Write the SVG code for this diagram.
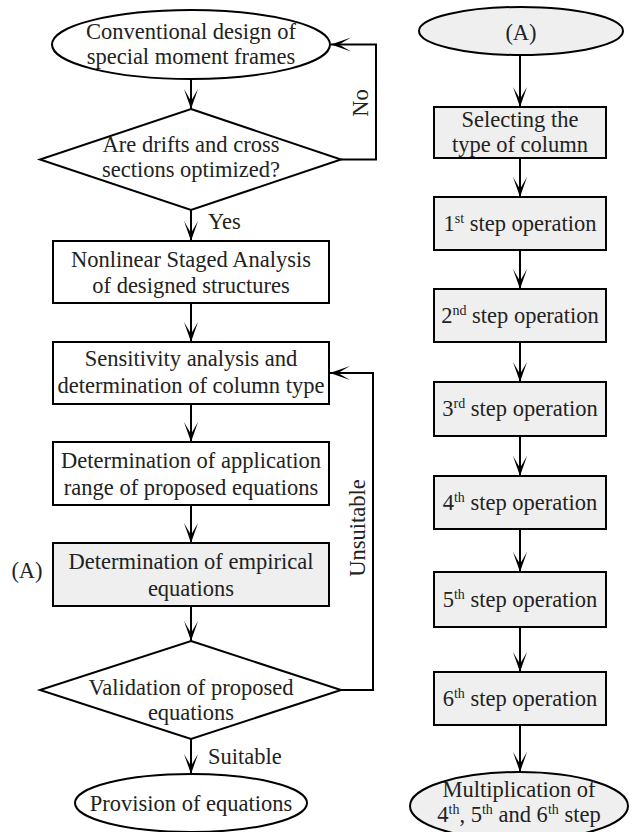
<svg xmlns="http://www.w3.org/2000/svg" width="632" height="832" viewBox="0 0 632 832" font-family="'Liberation Serif', 'Times New Roman', serif" font-size="22.5">
<style>
.s{stroke:#000;stroke-width:2;fill:#fff}
.g{stroke:#000;stroke-width:2;fill:#efefef}
text{font-family:'Liberation Serif','Times New Roman',serif;font-size:22.5px;fill:#222;text-anchor:middle}
.l{text-anchor:start}
.sup{font-size:14px}
.c{stroke:#000;stroke-width:2;fill:none;marker-end:url(#ah)}
</style>
<defs>
<marker id="ah" markerUnits="userSpaceOnUse" markerWidth="24" markerHeight="16" viewBox="-20 -8 22 16" refX="0" refY="0" orient="auto">
<path d="M0,0 L-20,-7 L-8,0 L-20,7 Z" fill="#000"/>
</marker>
</defs>
<g id="connectors">
<line class="c" x1="191" y1="79" x2="191" y2="109"/>
<line class="c" x1="191" y1="210" x2="191" y2="241"/>
<line class="c" x1="191" y1="303" x2="191" y2="342"/>
<line class="c" x1="191" y1="404" x2="191" y2="442"/>
<line class="c" x1="191" y1="505" x2="191" y2="543"/>
<line class="c" x1="191" y1="606" x2="191" y2="641"/>
<line class="c" x1="191" y1="739" x2="191" y2="774"/>
<polyline class="c" points="341,159.5 376,159.5 376,44.5 331,44.5"/>
<polyline class="c" points="341,690 373,690 373,373 330,373"/>
<line class="c" x1="520" y1="55" x2="520" y2="107"/>
<line class="c" x1="520" y1="158" x2="520" y2="197"/>
<line class="c" x1="520" y1="250" x2="520" y2="289"/>
<line class="c" x1="520" y1="342" x2="520" y2="382"/>
<line class="c" x1="520" y1="436" x2="520" y2="476"/>
<line class="c" x1="520" y1="529" x2="520" y2="572"/>
<line class="c" x1="520" y1="627" x2="520" y2="672"/>
<line class="c" x1="520" y1="725" x2="520" y2="772"/>
<text transform="translate(368,103) rotate(-90)">No</text>
<text class="l" x="208" y="229">Yes</text>
<text transform="translate(365,528) rotate(-90)">Unsuitable</text>
<text class="l" x="208" y="764">Suitable</text>
</g>
<g id="n1">
<ellipse class="s" cx="191" cy="44.5" rx="139" ry="34.5"/>
<text x="191" y="39">Conventional design of</text>
<text x="191" y="64">special moment frames</text>
</g>
<g id="n2">
<polygon class="s" points="191,109 341,159.5 191,210 40,159.5"/>
<text x="191" y="152">Are drifts and cross</text>
<text x="191" y="177">sections optimized?</text>
</g>
<g id="n3">
<rect class="s" x="53" y="241" width="276" height="62"/>
<text x="191" y="267">Nonlinear Staged Analysis</text>
<text x="191" y="293">of designed structures</text>
</g>
<g id="n4">
<rect class="s" x="53" y="342" width="276" height="62"/>
<text x="191" y="366">Sensitivity analysis and</text>
<text x="191" y="393">determination of column type</text>
</g>
<g id="n5">
<rect class="s" x="53" y="442" width="276" height="63"/>
<text x="191" y="468">Determination of application</text>
<text x="191" y="495">range of proposed equations</text>
</g>
<g id="n6">
<rect class="g" x="53" y="543" width="276" height="63"/>
<text x="191" y="569">Determination of empirical</text>
<text x="191" y="596">equations</text>
<text x="27" y="578">(A)</text>
</g>
<g id="n7">
<polygon class="s" points="191,641 341,690 191,739 40,690"/>
<text x="191" y="695">Validation of proposed</text>
<text x="191" y="720">equations</text>
</g>
<g id="n8">
<ellipse class="s" cx="191" cy="803" rx="116" ry="29"/>
<text x="191" y="811">Provision of equations</text>
</g>
<g id="r0">
<ellipse class="g" cx="521" cy="31" rx="102" ry="24"/>
<text x="521" y="40">(A)</text>
</g>
<g id="r1">
<rect class="g" x="434" y="107" width="172" height="51"/>
<text x="520" y="127">Selecting the</text>
<text x="520" y="152">type of column</text>
</g>
<g id="r2">
<rect class="g" x="434" y="197" width="172" height="53"/>
<text x="520" y="231">1<tspan class="sup" dy="-8">st</tspan><tspan dy="8"> step operation</tspan></text>
</g>
<g id="r3">
<rect class="g" x="434" y="289" width="172" height="53"/>
<text x="520" y="323">2<tspan class="sup" dy="-8">nd</tspan><tspan dy="8"> step operation</tspan></text>
</g>
<g id="r4">
<rect class="g" x="434" y="382" width="172" height="54"/>
<text x="520" y="416">3<tspan class="sup" dy="-8">rd</tspan><tspan dy="8"> step operation</tspan></text>
</g>
<g id="r5">
<rect class="g" x="434" y="476" width="172" height="53"/>
<text x="520" y="510">4<tspan class="sup" dy="-8">th</tspan><tspan dy="8"> step operation</tspan></text>
</g>
<g id="r6">
<rect class="g" x="434" y="572" width="172" height="55"/>
<text x="520" y="607">5<tspan class="sup" dy="-8">th</tspan><tspan dy="8"> step operation</tspan></text>
</g>
<g id="r7">
<rect class="g" x="434" y="672" width="172" height="53"/>
<text x="520" y="706">6<tspan class="sup" dy="-8">th</tspan><tspan dy="8"> step operation</tspan></text>
</g>
<g id="r8">
<ellipse class="g" cx="519" cy="806" rx="109" ry="34"/>
<text x="519" y="797">Multiplication of</text>
<text x="519" y="822">4<tspan class="sup" dy="-8">th</tspan><tspan dy="8">, 5</tspan><tspan class="sup" dy="-8">th</tspan><tspan dy="8"> and 6</tspan><tspan class="sup" dy="-8">th</tspan><tspan dy="8"> step</tspan></text>
</g>
</svg>
